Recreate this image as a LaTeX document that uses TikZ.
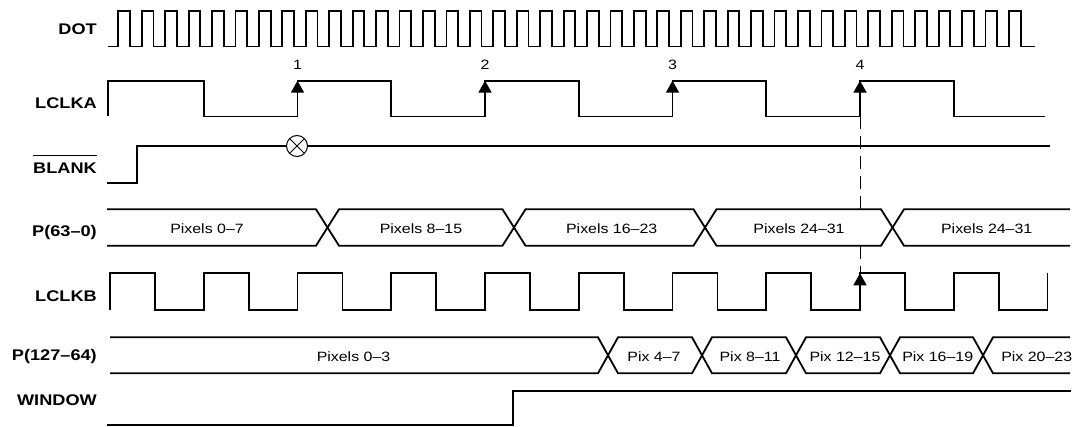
\documentclass[tikz,border=0pt]{standalone}
\usepackage{fontspec}
\setmainfont{Liberation Sans}[FakeStretch=1.18]
\usetikzlibrary{arrows.meta}
\def\lbl{\bfseries\fontsize{15.4}{18}\selectfont}
\def\txt{\fontsize{13.5}{16}\selectfont}

\begin{document}
\begin{tikzpicture}[x=1pt,y=-1pt,
  sig/.style={line width=1.8pt},
  signame/.style={anchor=base east, inner sep=0pt, font=\lbl},
  celltext/.style={anchor=base, inner sep=0pt, font=\txt},
  edgemark/.style={line width=1.8pt, -{Triangle[width=13pt,length=12pt]}},
  guide/.style={line width=1pt, dash pattern=on 13pt off 7pt}]
\path[use as bounding box, fill=white] (0,0) rectangle (1075,427);
% signal names
\node[signame] (dot) at (97,35) {DOT};
\node[signame] (lclka) at (97,108.3) {LCLKA};
\node[signame] (blank) at (97,173.3) {BLANK};
\node[signame] (pa) at (97,236.5) {P(63–0)};
\node[signame] (lclkb) at (97,301.7) {LCLKB};
\node[signame] (pb) at (97,360) {P(127–64)};
\node[signame] (window) at (97,405.7) {WINDOW};
\draw[line width=1.8pt] ([yshift=7pt]blank.north west) -- ([yshift=7pt]blank.north east);
% DOT
\draw[sig] (108.3,46.5) foreach \i in {0,...,38} {
  -- ({118.3+23.4375*\i},46.5) -- ++(0,-35.5) -- ++(11.7,0) -- ++(0,35.5)} -- (1035,46.5);
% LCLKA
\draw[sig] (108.3,116.5) -- (108.3,80.7) -- (203.75,80.7) -- (203.75,116.5)
  -- (297.5,116.5) -- (297.5,80.7) -- (391.25,80.7) -- (391.25,116.5)
  -- (485,116.5) -- (485,80.7) -- (578.75,80.7) -- (578.75,116.5)
  -- (672.5,116.5) -- (672.5,80.7) -- (766.25,80.7) -- (766.25,116.5)
  -- (860,116.5) -- (860,80.7) -- (953.75,80.7) -- (953.75,116.5) -- (1045,116.5);
\node[celltext] (e1) at (297.5,70) {1};
\node[celltext] (e2) at (485,70) {2};
\node[celltext] (e3) at (672.5,70) {3};
\node[celltext] (e4) at (860,70) {4};
\draw[edgemark] (297.5,116.5) -- (297.5,80.7);
\draw[edgemark] (485,116.5) -- (485,80.7);
\draw[edgemark] (672.5,116.5) -- (672.5,80.7);
\draw[edgemark] (860,116.5) -- (860,80.7);
% BLANK
\draw[sig] (107,183.3) -- (136.7,183.3) -- (136.7,146) -- (1050,146);
\node (xing) [circle, draw, line width=1pt, fill=white, minimum size=21pt, inner sep=0pt, outer sep=0pt] at (297,146) {};
\draw[line width=1pt] (xing.45) -- (xing.225) (xing.135) -- (xing.315);
% P(63-0)
\draw[sig] (107,209.3) -- (316,209.3) -- (339,245.7) -- (502.5,245.7) -- (525.5,209.3) -- (693.5,209.3)
  -- (716.5,245.7) -- (881,245.7) -- (904,209.3) -- (1070,209.3);
\draw[sig] (107,245.7) -- (316,245.7) -- (339,209.3) -- (502.5,209.3) -- (525.5,245.7) -- (693.5,245.7)
  -- (716.5,209.3) -- (881,209.3) -- (904,245.7) -- (1070,245.7);
\node[celltext] (pa1) at (207,233.3) {Pixels 0–7};
\node[celltext] (pa2) at (421,233.3) {Pixels 8–15};
\node[celltext] (pa3) at (611.7,233.3) {Pixels 16–23};
\node[celltext] (pa4) at (799,233.3) {Pixels 24–31};
\node[celltext] (pa5) at (986.7,233.3) {Pixels 24–31};
% LCLKB
\draw[sig] (110,310) foreach \i in {0,...,9} {
  -- ({110+93.75*\i},310) -- ++(0,-36.7) -- ++(45,0) -- ++(0,36.7)} -- (1047.5,310) -- (1047.5,273.3);
\draw[edgemark] (860,310) -- (860,273.3);
% guide from edge 4
\coordinate (g1) at (860,116.5);
\coordinate (g2) at (860,209.3);
\coordinate (g3) at (860,245.7);
\coordinate (g4) at (860,273.3);
\draw[guide] (g1) -- (g2);
\draw[guide] (g3) -- (g4);
% P(127-64)
\draw[sig] (110,337.3) -- (598,337.3) -- (618,373.3) -- (692,373.3) -- (712,337.3) -- (786,337.3)
  -- (806,373.3) -- (880,373.3) -- (900,337.3) -- (973,337.3) -- (993,373.3) -- (1070,373.3);
\draw[sig] (110,373.3) -- (598,373.3) -- (618,337.3) -- (692,337.3) -- (712,373.3) -- (786,373.3)
  -- (806,337.3) -- (880,337.3) -- (900,373.3) -- (973,373.3) -- (993,337.3) -- (1070,337.3);
\node[celltext] (pb1) at (353.5,361.7) {Pixels 0–3};
\node[celltext] (pb2) at (654,361.7) {Pix 4–7};
\node[celltext] (pb3) at (750,361.7) {Pix 8–11};
\node[celltext] (pb4) at (845,361.7) {Pix 12–15};
\node[celltext] (pb5) at (937.7,361.7) {Pix 16–19};
\node[celltext] (pb6) at (1036.7,361.7) {Pix 20–23};
% WINDOW
\draw[sig] (107,425) -- (513.3,425) -- (513.3,391) -- (1070.7,391);
\end{tikzpicture}
\end{document}
